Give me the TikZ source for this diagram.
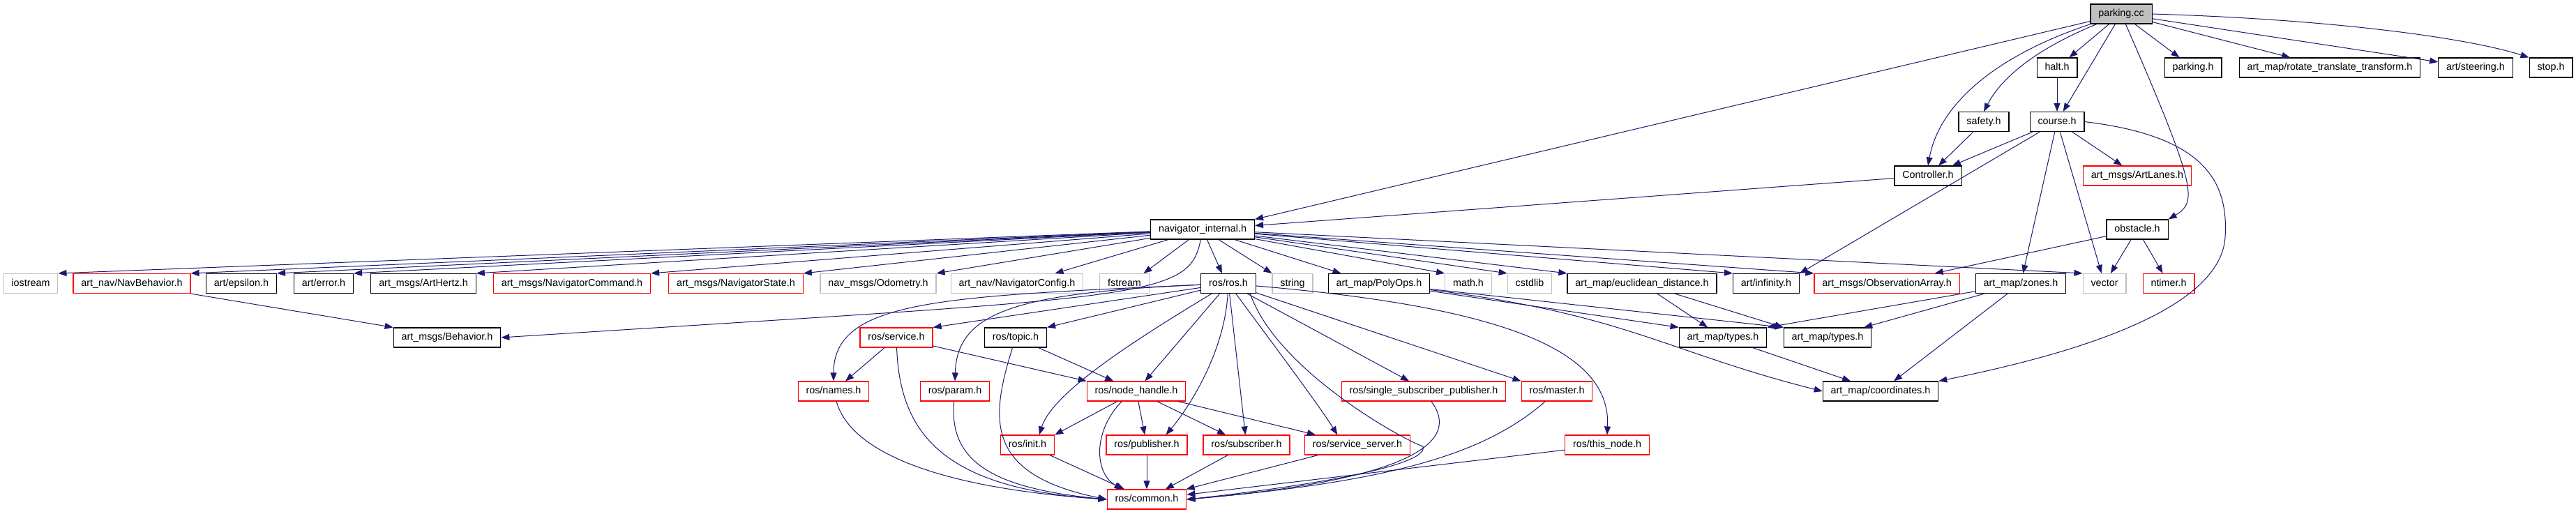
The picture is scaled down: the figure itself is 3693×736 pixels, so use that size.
\documentclass[tikz,border=0pt]{standalone}
\usepackage{fontspec}
\newfontfamily\dotfont{Liberation Sans}
\usetikzlibrary{arrows.meta, positioning}
\definecolor{edgeblue}{HTML}{191970}
\definecolor{sysgray}{HTML}{BFBFBF}
\definecolor{rootgray}{HTML}{BFBFBF}
\tikzset{
  hdr/.style={rectangle, draw, line width=0.6pt, inner xsep=5.7pt, inner ysep=0pt,
    minimum height=14pt, text height=5.3pt, text depth=1.5pt,
    font=\dotfont\fontsize{7.17}{8}\selectfont},
  docfile/.style={hdr, draw=black},
  sysfile/.style={hdr, draw=sysgray},
  cutfile/.style={hdr, draw=red},
  rootfile/.style={hdr, draw=black, fill=rootgray},
  incl/.style={draw=edgeblue, line width=0.5pt, -{Triangle[length=6pt,width=4.5pt]}}
}
\begin{document}
\begin{tikzpicture}[x=0.5pt,y=-0.5pt]
\useasboundingbox (0,0) rectangle (3693,736);
%top rows
\node[rootfile] (pk) at (3041,20) {parking.cc};
\node[docfile] (halt) at (2949,97) {halt.h};
\node[docfile] (parkh) at (3144,97) {parking.h};
\node[docfile] (rtt) at (3340,97) {art\_map/rotate\_translate\_transform.h};
\node[docfile] (steer) at (3549,97) {art/steering.h};
\node[docfile] (stop) at (3657,97) {stop.h};
\node[docfile] (safety) at (2844,174.5) {safety.h};
\node[docfile] (course) at (2949,174.5) {course.h};
\node[docfile] (ctrl) at (2764,252) {Controller.h};
\node[cutfile] (lanes) at (3064,252) {art\_msgs/ArtLanes.h};
\node[docfile] (ni) at (1724,329) {navigator\_internal.h};
\node[docfile] (obst) at (3064,329) {obstacle.h};
%row of includes
\node[sysfile] (iostream) at (44,406.5) {iostream};
\node[cutfile] (navbeh) at (189,406.5) {art\_nav/NavBehavior.h};
\node[docfile] (eps) at (346,406.5) {art/epsilon.h};
\node[docfile] (err) at (464,406.5) {art/error.h};
\node[docfile] (hertz) at (607,406.5) {art\_msgs/ArtHertz.h};
\node[cutfile] (navcmd) at (820,406.5) {art\_msgs/NavigatorCommand.h};
\node[cutfile] (navst) at (1055,406.5) {art\_msgs/NavigatorState.h};
\node[sysfile] (odom) at (1259,406.5) {nav\_msgs/Odometry.h};
\node[sysfile] (navcfg) at (1458,406.5) {art\_nav/NavigatorConfig.h};
\node[sysfile] (fstream) at (1612,406.5) {fstream};
\node[docfile] (ros) at (1761,406.5) {ros/ros.h};
\node[sysfile] (string) at (1853,406.5) {string};
\node[docfile] (poly) at (1977,406.5) {art\_map/PolyOps.h};
\node[sysfile] (math) at (2105,406.5) {math.h};
\node[sysfile] (cstdlib) at (2193,406.5) {cstdlib};
\node[docfile] (eucl) at (2354,406.5) {art\_map/euclidean\_distance.h};
\node[docfile] (inf) at (2532,406.5) {art/infinity.h};
\node[cutfile] (obsarr) at (2705,406.5) {art\_msgs/ObservationArray.h};
\node[docfile] (zones) at (2897,406.5) {art\_map/zones.h};
\node[sysfile] (vector) at (3017,406.5) {vector};
\node[cutfile] (ntimer) at (3109,406.5) {ntimer.h};
%lower rows
\node[docfile] (behav) at (641,484) {art\_msgs/Behavior.h};
\node[cutfile] (srv) at (1285,484) {ros/service.h};
\node[docfile] (topic) at (1456,484) {ros/topic.h};
\node[docfile] (typesA) at (2470,484) {art\_map/types.h};
\node[docfile] (typesB) at (2620,484) {art\_map/types.h};
\node[cutfile] (names) at (1195,561) {ros/names.h};
\node[cutfile] (param) at (1369,561) {ros/param.h};
\node[cutfile] (nh) at (1629,561) {ros/node\_handle.h};
\node[cutfile] (ssp) at (2041,561) {ros/single\_subscriber\_publisher.h};
\node[cutfile] (master) at (2232,561) {ros/master.h};
\node[docfile] (coord) at (2696,561) {art\_map/coordinates.h};
\node[cutfile] (init) at (1473,638) {ros/init.h};
\node[cutfile] (pub) at (1644,638) {ros/publisher.h};
\node[cutfile] (sub) at (1787,638) {ros/subscriber.h};
\node[cutfile] (srvsrv) at (1946,638) {ros/service\_server.h};
\node[cutfile] (thisnode) at (2304,638) {ros/this\_node.h};
\node[cutfile] (common) at (1644,716) {ros/common.h};
%parking.cc
\draw[incl] (pk) -- (ni.north east);
\draw[incl] (pk) .. controls (2860,80) and (2780,150) .. (ctrl.north);
\draw[incl] (pk) .. controls (2920,70) and (2870,110) .. (safety.north);
\draw[incl] (pk) -- (halt);
\draw[incl] (pk) -- (course);
\draw[incl] (pk) .. controls (3150,270) and (3150,290) .. (obst.north east);
\draw[incl] (pk) -- (parkh);
\draw[incl] (pk) -- (rtt);
\draw[incl] (pk) -- (steer);
\draw[incl] (pk.east) .. controls (3350,28) and (3540,55) .. (stop.north west);
%halt, safety, course, obstacle
\draw[incl] (halt) -- (course);
\draw[incl] (safety) -- (ctrl);
\draw[incl] (course) -- (ctrl);
\draw[incl] (course) -- (lanes);
\draw[incl] (course) -- (inf.north east);
\draw[incl] (course) -- (zones);
\draw[incl] (course) -- (vector);
\draw[incl] (course.east) .. controls (3160,195) and (3195,260) .. (3190,340) .. controls (3185,420) and (3060,490) .. (coord.north east);
\draw[incl] (ctrl) -- (ni);
\draw[incl] (obst) -- (obsarr.12);
\draw[incl] (obst) -- (vector);
\draw[incl] (obst) -- (ntimer);
%navigator_internal.h
\foreach \t in {iostream,navbeh,eps,err,hertz,navcmd,navst,odom}
  \draw[incl] (ni) -- (\t.north east);
\draw[incl] (ni) -- (navcfg.15);
\draw[incl] (ni) -- (fstream.28);
\draw[incl] (ni) -- (ros.122);
\draw[incl] (ni) -- (poly.165);
\foreach \t in {string,math,cstdlib,eucl,inf,obsarr,vector}
  \draw[incl] (ni) -- (\t.north west);
\draw[incl] (ni) .. controls (1705,430) and (1640,425) .. (behav.east);
\draw[incl] (navbeh.south east) -- (behav.north west);
%art_map
\draw[incl] (poly) -- (typesA.north west);
\draw[incl] (poly) -- (typesB.north west);
\draw[incl] (poly) .. controls (2330,450) and (2390,505) .. (coord.west);
\draw[incl] (eucl) -- (typesA);
\draw[incl] (eucl) -- (typesB.north west);
\draw[incl] (zones) -- (typesA.north east);
\draw[incl] (zones) -- (typesB);
\draw[incl] (zones) -- (coord);
\draw[incl] (typesA) -- (coord);
%ros/ros.h
\draw[incl] (ros) -- (srv.north east);
\draw[incl] (ros) -- (topic.north east);
\draw[incl] (ros) .. controls (1350,425) and (1195,430) .. (names.north);
\draw[incl] (ros) .. controls (1450,420) and (1372,450) .. (param.north);
\draw[incl] (ros) -- (nh);
\draw[incl] (ros) .. controls (1640,480) and (1510,560) .. (init.41);
\draw[incl] (ros) .. controls (1755,510) and (1700,590) .. (pub.28);
\draw[incl] (ros) -- (sub);
\draw[incl] (ros) .. controls (1830,500) and (1890,580) .. (srvsrv.153);
\draw[incl] (ros) -- (ssp.145);
\draw[incl] (ros) -- (master.north west);
\draw[incl] (ros) .. controls (2150,440) and (2310,500) .. (thisnode.north);
\draw[incl] (ros.-25) .. controls (1830,530) and (2010,630) .. (2040,640) .. controls (2050,670) and (1850,700) .. (common.east);
%ros headers
\draw[incl] (srv) -- (names);
\draw[incl] (srv) -- (nh.north west);
\draw[incl] (srv) .. controls (1290,620) and (1350,700) .. (common.west);
\draw[incl] (topic) -- (nh);
\draw[incl] (topic) .. controls (1420,600) and (1410,680) .. (common.west);
\draw[incl] (names) .. controls (1220,650) and (1350,700) .. (common.west);
\draw[incl] (param) .. controls (1360,660) and (1420,700) .. (common.west);
\draw[incl] (nh) -- (init.north east);
\draw[incl] (nh.-145) .. controls (1565,620) and (1570,680) .. (common.157);
\draw[incl] (nh) -- (pub);
\draw[incl] (nh) -- (sub);
\draw[incl] (nh) -- (srvsrv);
\draw[incl] (init) -- (common);
\draw[incl] (pub) -- (common);
\draw[incl] (sub) -- (common);
\draw[incl] (srvsrv) -- (common);
\draw[incl] (ssp) .. controls (2100,640) and (2000,690) .. (common.east);
\draw[incl] (master) .. controls (2130,650) and (2000,690) .. (common.east);
\draw[incl] (thisnode) -- (common);
\end{tikzpicture}
\end{document}
